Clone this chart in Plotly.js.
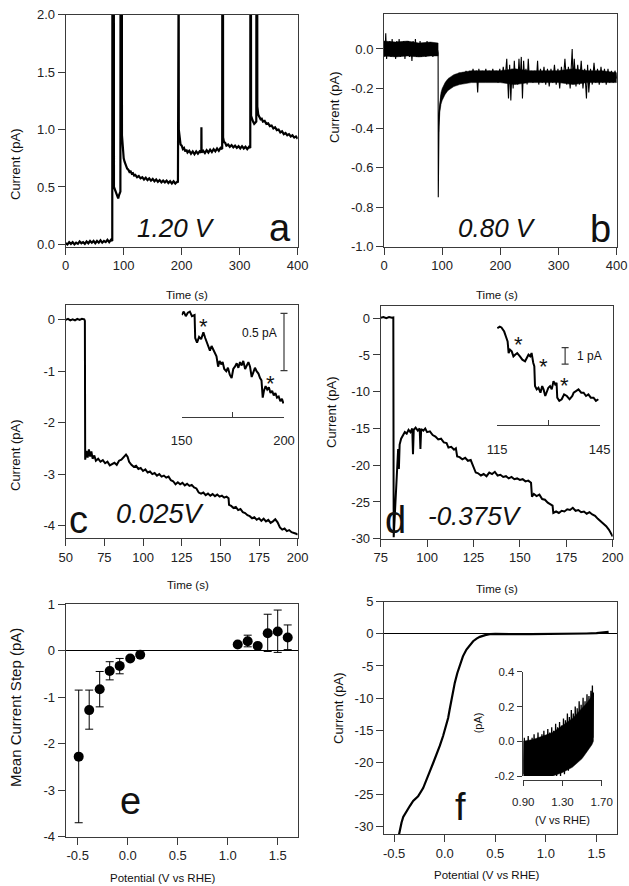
<!DOCTYPE html>
<html><head><meta charset="utf-8">
<script src="https://cdn.plot.ly/plotly-3.0.1.min.js"></script>
<style>html,body{margin:0;padding:0;background:#fff}#chart{width:629px;height:886px}</style>
</head><body><div id="chart"></div>
<script>
// ---------- DATA ----------
// panel a : 1.20 V, time (s) vs current (pA)
const panelA = [[0,0.01],[3,0.0],[6,0.02],[9,0.005],[12,0.02],[15,0.0],[18,0.015],[21,0.005],[24,0.025],[27,0.01],[30,0.02],[33,0.005],[36,0.025],[39,0.01],[42,0.03],[45,0.015],[48,0.03],[51,0.01],[54,0.03],[57,0.015],[60,0.035],[63,0.015],[66,0.03],[69,0.02],[72,0.04],[75,0.02],[78,0.04],[80.3,0.03],
[80.5,2.5],[83,2.5],
[83.2,0.5],[85,0.47],[87,0.45],[89,0.41],[90.5,0.40],[92,0.43],[94.3,0.46],
[94.5,2.5],[96.8,2.5],
[97,0.95],[98,0.84],[99,0.78],[100,0.75],[101.5,0.72],[103,0.69],[104.5,0.68],[106,0.66],[108,0.65],[110,0.63],[112,0.635],[114,0.615],[116,0.62],[118,0.6],[120,0.605],[123,0.585],[126,0.595],[129,0.575],[132,0.585],[135,0.565],[138,0.58],[141,0.56],[144,0.575],[147,0.555],[150,0.57],[153,0.55],[156,0.565],[159,0.545],[162,0.56],[165,0.54],[168,0.555],[171,0.54],[174,0.555],[177,0.535],[180,0.55],[183,0.53],[186,0.55],[189,0.53],[192,0.545],[193.5,0.54],
[193.7,2.5],[194.8,2.5],
[195,1.0],[196,0.93],[197,0.9],[198,0.87],[200,0.86],[202,0.83],[204,0.84],[206,0.81],[208,0.825],[210,0.8],[213,0.815],[216,0.79],[219,0.81],[222,0.785],[225,0.81],[228,0.79],[231,0.81],[233.8,0.8],[234,1.02],[234.3,0.8],[237,0.815],[240,0.795],[243,0.82],[246,0.8],[249,0.825],[252,0.805],[255,0.83],[258,0.81],[261,0.835],[264,0.815],[267,0.84],[269.8,0.83],
[270,2.5],[271.2,2.5],
[271.4,0.93],[273,0.89],[275,0.885],[277,0.86],[280,0.87],[283,0.85],[286,0.865],[289,0.845],[292,0.86],[295,0.84],[298,0.855],[301,0.835],[304,0.855],[307,0.835],[310,0.85],[313,0.83],[316,0.85],[318.2,0.84],
[318.4,2.5],[319.4,2.5],
[319.6,1.12],[321,1.09],[323,1.07],[325,1.05],[327,1.06],[328.6,1.07],
[328.8,2.5],[330.2,2.5],
[330.4,1.2],[332,1.13],[334,1.11],[336,1.09],[338,1.095],[340,1.07],[343,1.075],[346,1.05],[349,1.055],[352,1.03],[355,1.035],[358,1.01],[361,1.02],[364,0.995],[367,1.0],[370,0.975],[373,0.985],[376,0.96],[379,0.97],[382,0.95],[385,0.96],[388,0.94],[391,0.95],[394,0.93],[397,0.94],[400,0.92]];

// panel b : 0.80 V (spiky trace + dense noise band envelope)
const panelB = [[0,0.03],[1.5,-0.04],[3,0.08],[4.5,-0.05],[6,0.03],[8,-0.03],[10,0.04],[12,-0.04],[14,0.05],[16,-0.03],[18,0.03],[20,-0.05],[22,0.04],[24,-0.03],[26,0.05],[28,-0.04],[30,0.03],[32,-0.03],[34,0.04],[36,-0.05],[38,0.03],[40,-0.03],[42,0.04],[44,-0.04],[46,0.03],[48,-0.06],[50,0.04],[52,-0.03],[54,0.05],[56,-0.04],[58,0.03],[60,-0.03],[62,0.04],[64,-0.04],[66,0.03],[68,-0.03],[70,0.03],[72,-0.04],[74,0.04],[76,-0.03],[78,0.03],[80,-0.03],[82,0.03],[84,-0.04],[86,0.03],[88,-0.03],[90,0.03],[92,-0.02],
[93,-0.02],[93.3,-0.75],[93.8,-0.45],[94.5,-0.37],[95.5,-0.3],[97,-0.27],[98.5,-0.23],[100,-0.25],[102,-0.2],[104,-0.23],[106,-0.18],[108,-0.21],[110,-0.16],[112,-0.2],[114,-0.15],[116,-0.19],[118,-0.14],[120,-0.18],[123,-0.13],[126,-0.18],[129,-0.12],[132,-0.17],[135,-0.12],[138,-0.17],[141,-0.11],[144,-0.16],[147,-0.11],[150,-0.16],[153,-0.1],[156,-0.15],[159,-0.11],[161,-0.22],[163,-0.1],[166,-0.16],[169,-0.11],[172,-0.16],[175,-0.1],[178,-0.15],[181,-0.11],[184,-0.16],[187,-0.1],[190,-0.15],[193,-0.11],[196,-0.17],[199,-0.1],[202,-0.16],[205,-0.09],[208,-0.16],[211,-0.05],[214,-0.25],[216,-0.08],[218,-0.26],[220,-0.1],[222,-0.2],[224,-0.06],[226,-0.17],[228,-0.11],[230,-0.18],[232,-0.05],[234,-0.16],[236,-0.04],[238,-0.25],[240,-0.06],[242,-0.17],[244,-0.1],[246,-0.18],[248,-0.05],[250,-0.16],[253,-0.11],[256,-0.17],[259,-0.11],[262,-0.16],[264,-0.06],[266,-0.18],[269,-0.1],[272,-0.17],[275,-0.09],[278,-0.18],[281,-0.1],[284,-0.19],[287,-0.1],[290,-0.17],[293,-0.08],[296,-0.18],[299,-0.1],[302,-0.2],[305,-0.09],[308,-0.17],[311,-0.05],[314,-0.18],[317,-0.09],[320,-0.2],[322,-0.03],[323.5,0.0],[325,-0.17],[327,-0.05],[330,-0.19],[333,-0.08],[336,-0.18],[339,-0.06],[342,-0.2],[345,-0.1],[348,-0.25],[350,-0.08],[352,-0.22],[355,-0.1],[358,-0.18],[361,-0.07],[364,-0.17],[367,-0.1],[370,-0.18],[373,-0.09],[376,-0.17],[379,-0.1],[382,-0.18],[385,-0.1],[388,-0.17],[391,-0.11],[394,-0.17],[397,-0.11],[400,-0.15]];
const bBand1Time  = [0, 20, 40, 60, 80, 93];
const bBand1Upper = [0.04, 0.035, 0.04, 0.03, 0.035, 0.03];
const bBand1Lower = [-0.035, -0.04, -0.035, -0.04, -0.035, -0.035];
const bBand2Time  = [94, 96, 98, 100, 105, 110, 120, 130, 150, 175, 200, 225, 250, 275, 300, 325, 350, 375, 400];
const bBand2Upper = [-0.33, -0.26, -0.22, -0.2, -0.17, -0.15, -0.13, -0.12, -0.11, -0.11, -0.11, -0.1, -0.11, -0.11, -0.11, -0.1, -0.11, -0.11, -0.12];
const bBand2Lower = [-0.42, -0.32, -0.28, -0.26, -0.23, -0.21, -0.19, -0.18, -0.17, -0.17, -0.17, -0.18, -0.17, -0.17, -0.17, -0.18, -0.17, -0.17, -0.17];

// panel c : 0.025 V
const panelC = [[50,0.0],[51.5,0.02],[53,-0.01],[54.5,0.01],[56,-0.01],[57.5,0.02],[59,0.0],[60.5,0.02],[62,0.01],[62.4,-0.02],[62.6,-2.72],[63.4,-2.55],[64.2,-2.68],[65,-2.52],[65.8,-2.66],[66.6,-2.56],[67.4,-2.7],[68.5,-2.64],[69.5,-2.74],[71,-2.7],[72.5,-2.76],[74,-2.73],[75.5,-2.79],[77,-2.76],[78.5,-2.83],[80,-2.8],[81.5,-2.78],[83,-2.82],[84.5,-2.74],[86,-2.72],[87.5,-2.66],[89,-2.62],[90,-2.66],[91,-2.76],[92.5,-2.82],[94,-2.86],[95.5,-2.84],[97,-2.9],[98.5,-2.88],[100,-2.94],[101.5,-2.91],[103,-2.97],[104.5,-2.95],[106,-3.0],[107.5,-2.98],[109,-3.03],[110.5,-3.0],[112,-3.05],[113.5,-3.03],[115,-3.07],[116.5,-3.05],[118,-3.12],[119.5,-3.14],[121,-3.2],[122.5,-3.16],[124,-3.2],[125.5,-3.17],[127,-3.22],[128.5,-3.19],[130,-3.23],[131.5,-3.21],[133,-3.26],[134.5,-3.28],[136,-3.36],[137.5,-3.38],[139,-3.36],[140.5,-3.41],[142,-3.38],[143.5,-3.42],[145,-3.39],[146.5,-3.43],[148,-3.4],[149.5,-3.44],[151,-3.42],[152.5,-3.46],[154,-3.44],[155.3,-3.47],[155.6,-3.6],[157,-3.62],[158.5,-3.66],[160,-3.64],[161.5,-3.7],[163,-3.68],[164.5,-3.74],[166,-3.76],[167.5,-3.8],[169,-3.82],[170.5,-3.86],[172,-3.84],[173.5,-3.89],[175,-3.86],[176.5,-3.91],[178,-3.87],[179.5,-3.92],[181,-3.89],[182.5,-3.95],[184,-3.92],[185.5,-3.88],[187,-3.94],[188.5,-4.04],[190,-4.08],[191.5,-4.06],[193,-4.11],[194.5,-4.09],[196,-4.13],[197.5,-4.14],[199,-4.16],[200,-4.18]];
// panel c inset (time 150-200 s, relative current, pA)
const panelCInset = [[150,0.0],[151,0.03],[152,-0.01],[153,0.02],[154,0.03],[155,-0.01],[156.3,0.0],[156.6,-0.2],[157.5,-0.24],[158.5,-0.19],[159.5,-0.21],[160.6,-0.15],[161.5,-0.2],[162.2,-0.24],[163,-0.27],[163.8,-0.31],[164.6,-0.27],[165.4,-0.3],[166.2,-0.34],[167,-0.36],[167.8,-0.45],[168.5,-0.4],[169.3,-0.43],[170,-0.41],[170.8,-0.47],[171.8,-0.49],[172.6,-0.46],[173.5,-0.52],[174.4,-0.55],[175.2,-0.47],[176,-0.45],[176.9,-0.42],[177.7,-0.46],[178.5,-0.41],[179.3,-0.44],[180.1,-0.40],[181,-0.47],[181.8,-0.44],[182.6,-0.41],[183.4,-0.45],[184.2,-0.54],[185,-0.5],[185.8,-0.46],[186.6,-0.49],[187.5,-0.51],[188.3,-0.55],[189,-0.57],[189.6,-0.72],[190.2,-0.66],[191,-0.62],[191.8,-0.65],[192.6,-0.63],[193.4,-0.68],[194.2,-0.66],[195,-0.7],[195.8,-0.68],[196.6,-0.72],[197.4,-0.71],[198.2,-0.75],[199,-0.73],[199.7,-0.77]];
const cScaleBar = 0.5;      // pA
const cInsetTicks = [150,175,200];
const cInsetTickText = ['150','','200'];

// panel d : -0.375 V
const panelD = [[75,0.05],[76.5,0.15],[78,0.0],[79.5,0.15],[81,0.05],[81.8,0.1],[82,-29.8],[82.5,-27.5],[83,-24],[83.5,-21.5],[84,-19.5],[84.4,-17.8],[84.8,-20.5],[85.2,-17.2],[86,-16.4],[87,-16.0],[88,-15.5],[89,-15.7],[90,-15.2],[91,-15.5],[92,-15.0],[92.4,-18.5],[92.8,-15.2],[93.8,-14.9],[95,-15.3],[96,-15.0],[96.4,-17.8],[96.8,-15.1],[98,-15.3],[99,-15.0],[100,-15.5],[101.5,-15.4],[103,-15.9],[104.5,-16.1],[106,-16.5],[107.5,-16.4],[109,-16.9],[110.5,-17.0],[111.5,-17.6],[113,-17.5],[114.5,-17.9],[115.5,-17.7],[116.2,-18.8],[117.5,-18.9],[119,-19.2],[120.5,-19.0],[122,-19.4],[123.5,-19.3],[124.5,-19.9],[125.5,-20.6],[126.2,-21.0],[127.5,-21.1],[129,-21.4],[130.5,-21.2],[132,-21.5],[133.5,-21.0],[135,-21.2],[136.5,-20.9],[138,-21.4],[139.5,-21.3],[141,-21.6],[142.5,-21.5],[144,-21.8],[145.5,-21.6],[147,-21.9],[148.5,-21.8],[150,-22.0],[151.5,-21.9],[153,-22.2],[154.5,-22.1],[156,-22.4],[156.5,-24.3],[157.5,-23.9],[159,-24.2],[160.5,-24.0],[162,-24.6],[163.5,-24.7],[165,-25.1],[166.5,-25.4],[167.6,-25.5],[168,-26.5],[169.5,-26.3],[171,-26.5],[172.5,-26.2],[174,-26.3],[175.5,-26.0],[177,-26.1],[178.5,-25.8],[180,-26.2],[181.5,-26.1],[183,-26.4],[184.5,-26.3],[186,-26.6],[187.5,-26.4],[189,-26.7],[190.5,-26.9],[192,-27.3],[193.5,-27.6],[195,-28.0],[196.5,-28.3],[198,-28.8],[199,-29.2],[200,-29.7]];
// panel d inset (time 115-145 s, relative current, pA)
const panelDInset = [[115.1,0],[115.8,0.1],[116.3,0.05],[116.8,-0.1],[117.1,-0.2],[117.6,-0.5],[118.1,-0.8],[118.4,-1.5],[118.8,-1.3],[119.3,-1.4],[119.8,-1.7],[120.3,-1.6],[120.9,-1.5],[121.7,-1.7],[122.4,-1.9],[123.2,-2.0],[123.7,-1.8],[124.2,-1.6],[124.7,-1.7],[125.1,-1.5],[125.6,-2.1],[125.9,-2.3],[126.1,-3.5],[126.6,-3.7],[127.1,-3.6],[127.7,-3.9],[128.2,-3.5],[128.6,-3.7],[129.1,-4.1],[129.5,-3.9],[130,-3.6],[130.5,-3.5],[131,-3.7],[131.5,-3.2],[132,-3.4],[132.4,-3.3],[132.6,-4.2],[133.2,-4.4],[133.9,-4.3],[134.6,-4.0],[135.4,-4.1],[136.2,-4.3],[137,-4.1],[137.4,-3.9],[138.1,-3.8],[138.8,-3.7],[139.6,-3.9],[140.3,-3.9],[141,-4.1],[141.7,-4.0],[142.4,-4.2],[143.2,-4.2],[143.9,-4.4],[144.6,-4.3]];
const dScaleBar = 1;        // pA
const dInsetTicks = [115,130,145];
const dInsetTickText = ['115','','145'];

// panel e : mean current step vs potential
const ePotential = [-0.49,-0.385,-0.28,-0.18,-0.08,0.025,0.125,1.1,1.2,1.3,1.4,1.5,1.6];
const eMeanStep  = [-2.28,-1.28,-0.83,-0.44,-0.33,-0.17,-0.09,0.13,0.20,0.10,0.37,0.41,0.28];
const eErrPlus   = [1.43,0.43,0.38,0.20,0.16,0.02,0.02,0.02,0.13,0.02,0.41,0.46,0.27];
const eErrMinus  = [1.42,0.41,0.38,0.19,0.17,0.02,0.02,0.02,0.12,0.02,0.39,0.45,0.26];

// panel f : linear sweep, potential (V vs RHE) vs current (pA)
const fPotential = [-0.455,-0.44,-0.427,-0.41,-0.378,-0.345,-0.312,-0.263,-0.213,-0.18,-0.147,-0.114,-0.081,-0.048,-0.016,0.01,0.034,0.05,0.067,0.085,0.1,0.125,0.149,0.18,0.215,0.25,0.281,0.315,0.347,0.4,0.446,0.5,0.55,0.7,0.85,1.0,1.15,1.3,1.4,1.5,1.56,1.62];
const fCurrent   = [-31.5,-30.2,-29.4,-28.5,-27.6,-26.8,-26.0,-25.3,-24.0,-22.8,-21.4,-20.1,-18.8,-17.4,-15.9,-14.5,-13.1,-11.7,-10.2,-8.9,-7.6,-6.1,-4.8,-3.5,-2.44,-1.7,-1.15,-0.75,-0.47,-0.2,-0.06,-0.02,-0.05,-0.05,-0.06,-0.05,-0.03,0.0,0.05,0.1,0.15,0.3];
// panel f inset (0.90-1.70 V zoom): spiky trace + noise band envelope
const fInset = [[0.90,-0.19],[0.91,0.02],[0.92,-0.2],[0.93,-0.01],[0.94,-0.19],[0.95,0.03],[0.96,-0.2],[0.97,0.0],[0.98,-0.19],[0.99,0.02],[1.00,-0.2],[1.01,0.04],[1.02,-0.19],[1.03,0.01],[1.04,-0.2],[1.05,0.05],[1.06,-0.19],[1.07,0.02],[1.08,-0.2],[1.09,0.04],[1.10,-0.19],[1.11,0.06],[1.12,-0.2],[1.13,0.03],[1.14,-0.19],[1.15,0.07],[1.16,-0.2],[1.17,0.05],[1.18,-0.19],[1.19,0.08],[1.20,-0.2],[1.21,0.06],[1.22,-0.19],[1.23,0.1],[1.24,-0.2],[1.25,0.08],[1.26,-0.18],[1.27,0.11],[1.28,-0.2],[1.29,0.09],[1.30,-0.17],[1.31,0.13],[1.32,-0.19],[1.33,0.12],[1.34,-0.16],[1.35,0.16],[1.36,-0.17],[1.37,0.14],[1.38,-0.15],[1.39,0.18],[1.40,-0.14],[1.41,0.16],[1.42,-0.13],[1.43,0.2],[1.44,-0.12],[1.45,0.19],[1.46,-0.11],[1.47,0.23],[1.48,-0.1],[1.49,0.21],[1.50,-0.08],[1.51,0.25],[1.52,-0.07],[1.53,0.23],[1.54,-0.05],[1.55,0.27],[1.56,-0.04],[1.57,0.26],[1.58,-0.02],[1.59,0.29],[1.60,0.0],[1.605,0.32],[1.61,0.02],[1.615,0.28]];
const fBandV     = [0.9, 1.0, 1.1, 1.2, 1.3, 1.4, 1.5, 1.55, 1.6, 1.615];
const fBandUpper = [0.0, 0.01, 0.03, 0.05, 0.09, 0.13, 0.19, 0.22, 0.26, 0.25];
const fBandLower = [-0.2, -0.2, -0.2, -0.2, -0.18, -0.15, -0.1, -0.06, -0.02, 0.0];
const fInsetXTicks = [0.9,1.3,1.7];
const fInsetXText = ['0.90','1.30','1.70'];
const fInsetYTicks = [-0.2,0,0.2,0.4];
const fInsetYText = ['-0.2','0.0','0.2','0.4'];

// ---------- LAYOUT ----------
const W = 629, H = 886;
const px = v => v / W;
const py = v => 1 - v / H;
const FONT = 'Liberation Sans, Arial, sans-serif';
const AX = '#3a3a3a';
const TXT = '#222';
const xs = arr => arr.map(p => p[0]);
const ys = arr => arr.map(p => p[1]);
const band = (t, up, lo) => ({x: t.concat(t.slice().reverse()), y: up.concat(lo.slice().reverse())});

function mainAxis(dom, range, tv, tt, anchor) {
  return {domain: dom, range: range, anchor: anchor, tickvals: tv, ticktext: tt,
    showline: true, mirror: true, linecolor: AX, linewidth: 1,
    ticks: 'outside', ticklen: 7, tickcolor: AX, tickwidth: 1,
    showgrid: false, zeroline: false, fixedrange: true,
    tickfont: {family: FONT, size: 13, color: TXT}};
}
const tk = (vals, f) => vals.map(f);
const b1 = band(bBand1Time, bBand1Upper, bBand1Lower);
const b2 = band(bBand2Time, bBand2Upper, bBand2Lower);
const fb = band(fBandV, fBandUpper, fBandLower);

const traces = [
  {x: xs(panelA), y: ys(panelA), xaxis: 'x', yaxis: 'y', mode: 'lines', line: {color: '#000', width: 2.2}},
  {x: b1.x, y: b1.y, xaxis: 'x2', yaxis: 'y2', mode: 'lines', fill: 'toself', fillcolor: '#000', line: {color: '#000', width: 0.5}},
  {x: b2.x, y: b2.y, xaxis: 'x2', yaxis: 'y2', mode: 'lines', fill: 'toself', fillcolor: '#000', line: {color: '#000', width: 0.5}},
  {x: xs(panelB), y: ys(panelB), xaxis: 'x2', yaxis: 'y2', mode: 'lines', line: {color: '#000', width: 1.1}},
  {x: xs(panelC), y: ys(panelC), xaxis: 'x3', yaxis: 'y3', mode: 'lines', line: {color: '#000', width: 2}},
  {x: xs(panelCInset), y: ys(panelCInset), xaxis: 'x7', yaxis: 'y7', mode: 'lines', line: {color: '#000', width: 2}},
  {x: [200], y: [-cScaleBar/2 + 0.015], xaxis: 'x10', yaxis: 'y10', mode: 'markers', marker: {size: 1, color: 'rgba(0,0,0,0)'},
   error_y: {type: 'constant', value: cScaleBar/2, visible: true, color: AX, thickness: 1.2, width: 3.5}},
  {x: xs(panelD), y: ys(panelD), xaxis: 'x4', yaxis: 'y4', mode: 'lines', line: {color: '#000', width: 2}},
  {x: xs(panelDInset), y: ys(panelDInset), xaxis: 'x8', yaxis: 'y8', mode: 'lines', line: {color: '#000', width: 2}},
  {x: [134.9], y: [-1.67], xaxis: 'x8', yaxis: 'y8', mode: 'markers', marker: {size: 1, color: 'rgba(0,0,0,0)'},
   error_y: {type: 'constant', value: dScaleBar/2, visible: true, color: AX, thickness: 1.2, width: 3.5}},
  {x: ePotential, y: eMeanStep, xaxis: 'x5', yaxis: 'y5', mode: 'markers', marker: {color: '#000', size: 10},
   error_y: {type: 'data', array: eErrPlus, arrayminus: eErrMinus, visible: true, color: '#000', thickness: 1, width: 4}},
  {x: fPotential, y: fCurrent, xaxis: 'x6', yaxis: 'y6', mode: 'lines', line: {color: '#000', width: 2.2}},
  {x: fb.x, y: fb.y, xaxis: 'x9', yaxis: 'y9', mode: 'lines', fill: 'toself', fillcolor: '#000', line: {color: '#000', width: 0.5}},
  {x: xs(fInset), y: ys(fInset), xaxis: 'x9', yaxis: 'y9', mode: 'lines', line: {color: '#000', width: 1.3}}
];

const oneDec = v => (v < 0 ? '-' : '') + Math.abs(v).toFixed(1);
const intLab = v => (v < 0 ? '-' : '') + Math.abs(v).toFixed(0);

const aY = [0, 0.5, 1, 1.5, 2], bY = [-1, -0.8, -0.6, -0.4, -0.2, 0];
const tA = [0, 100, 200, 300, 400], tC = [50, 75, 100, 125, 150, 175, 200], tD = [75, 100, 125, 150, 175, 200];
const cY = [-4, -3, -2, -1, 0], dY = [-30, -25, -20, -15, -10, -5, 0];
const eX = [-0.5, 0, 0.5, 1, 1.5], eY = [-4, -3, -2, -1, 0, 1], fY = [-30, -25, -20, -15, -10, -5, 0, 5];

const layout = {
  width: W, height: H, margin: {l: 0, r: 0, t: 0, b: 0},
  paper_bgcolor: '#fff', plot_bgcolor: 'rgba(0,0,0,0)', showlegend: false,
  font: {family: FONT, color: TXT},
  xaxis:  mainAxis([px(65.7), px(297.7)], [0, 400], tA, tk(tA, intLab), 'y'),
  yaxis:  mainAxis([py(246.7), py(14.7)], [-0.02, 2.0], aY, tk(aY, oneDec), 'x'),
  xaxis2: mainAxis([px(384), px(616.7)], [0, 400], tA, tk(tA, intLab), 'y2'),
  yaxis2: mainAxis([py(246.7), py(14)], [-1.0, 0.177], bY, tk(bY, oneDec), 'x2'),
  xaxis3: mainAxis([px(65.7), px(297.7)], [50, 200], tC, tk(tC, intLab), 'y3'),
  yaxis3: mainAxis([py(538.3), py(305)], [-4.25, 0.29], cY, tk(cY, intLab), 'x3'),
  xaxis4: mainAxis([px(380.7), px(612.7)], [75, 200], tD, tk(tD, intLab), 'y4'),
  yaxis4: mainAxis([py(538.7), py(305.7)], [-30, 1.7], dY, tk(dY, intLab), 'x4'),
  xaxis5: mainAxis([px(65.7), px(297.7)], [-0.62, 1.70], eX, tk(eX, oneDec), 'y5'),
  yaxis5: Object.assign(mainAxis([py(836.7), py(604)], [-4, 1], eY, tk(eY, intLab), 'x5'), {zeroline: true, zerolinecolor: '#000', zerolinewidth: 1}),
  xaxis6: mainAxis([px(384), px(616.7)], [-0.6, 1.7], eX, tk(eX, oneDec), 'y6'),
  yaxis6: Object.assign(mainAxis([py(834.3), py(601.7)], [-31.2, 5], fY, tk(fY, intLab), 'x6'), {zeroline: true, zerolinecolor: '#000', zerolinewidth: 1}),
  // inset c
  xaxis7: {domain: [px(181.7), px(284)], range: [150, 200], anchor: 'free', position: py(416.7),
    showline: true, linecolor: AX, linewidth: 1, ticks: 'inside', ticklen: 5, tickcolor: AX,
    tickvals: cInsetTicks, ticktext: cInsetTickText, showgrid: false, zeroline: false, fixedrange: true,
    ticklabelstandoff: 12, tickfont: {family: FONT, size: 13, color: TXT}},
  yaxis7: {domain: [py(406.8), py(309.3)], range: [-0.8, 0.05], anchor: 'x7', visible: false, fixedrange: true},
  xaxis10: {domain: [px(181.7), px(294)], range: [150, 204.89], anchor: 'y10', visible: false, fixedrange: true},
  yaxis10: {domain: [py(406.8), py(309.3)], range: [-0.8, 0.05], anchor: 'x10', visible: false, fixedrange: true},
  // inset d
  xaxis8: {domain: [px(497), px(599.7)], range: [115, 145], anchor: 'free', position: py(425),
    showline: true, linecolor: AX, linewidth: 1, ticks: 'inside', ticklen: 5, tickcolor: AX,
    tickvals: dInsetTicks, ticktext: dInsetTickText, showgrid: false, zeroline: false, fixedrange: true,
    ticklabelstandoff: 12, tickfont: {family: FONT, size: 13, color: TXT}},
  yaxis8: {domain: [py(402.6), py(320)], range: [-4.5, 0.5], anchor: 'x8', visible: false, fixedrange: true},
  // inset f
  xaxis9: {domain: [px(523.3), px(601.7)], range: [0.9, 1.7], anchor: 'free', position: py(780),
    showline: true, linecolor: AX, linewidth: 1, ticks: 'outside', ticklen: 5, tickcolor: AX,
    tickvals: fInsetXTicks, ticktext: fInsetXText, showgrid: false, zeroline: false, fixedrange: true,
    ticklabelstandoff: 6, tickfont: {family: FONT, size: 11.5, color: TXT}},
  yaxis9: {domain: [py(776), py(671.7)], range: [-0.2, 0.4], anchor: 'free', position: px(521.7),
    showline: true, linecolor: AX, linewidth: 1, ticks: 'outside', ticklen: 5, tickcolor: AX,
    tickvals: fInsetYTicks, ticktext: fInsetYText, showgrid: false, zeroline: false, fixedrange: true,
    tickfont: {family: FONT, size: 11.5, color: TXT}},
  annotations: []
};

function ann(text, x, y, size, extra) {
  return Object.assign({text: text, x: px(x), y: py(y), xref: 'paper', yref: 'paper',
    showarrow: false, xanchor: 'center', yanchor: 'middle',
    font: {family: FONT, size: size, color: '#111'}}, extra || {});
}
const A = layout.annotations;
// axis titles
A.push(ann('Time (s)', 186.7, 295, 11.5));
A.push(ann('Time (s)', 496.7, 295, 11.5));
A.push(ann('Time (s)', 187.5, 585, 11.5));
A.push(ann('Time (s)', 496.7, 589, 11.5));
A.push(ann('Potential (V vs RHE)', 163, 878, 11.5));
A.push(ann('Potential (V vs RHE)', 486.7, 875, 11.5));
A.push(ann('Current (pA)', 15, 164, 13, {textangle: -90}));
A.push(ann('Current (pA)', 335, 107, 13, {textangle: -90}));
A.push(ann('Current (pA)', 15, 455, 13, {textangle: -90}));
A.push(ann('Current (pA)', 332, 412, 13, {textangle: -90}));
A.push(ann('Mean Current Step (pA)', 15, 708, 15, {textangle: -90}));
A.push(ann('Current (pA)', 338, 708, 13, {textangle: -90}));
// potentials
A.push(ann('<i>1.20 V</i>', 175.8, 228, 26));
A.push(ann('<i>0.80 V</i>', 496.7, 228, 26));
A.push(ann('<i>0.025V</i>', 160, 514, 27));
A.push(ann('<i>-0.375V</i>', 475, 516, 26));
// panel letters
A.push(ann('a', 280, 228, 38));
A.push(ann('b', 600, 229, 38));
A.push(ann('c', 78.3, 520, 38));
A.push(ann('d', 395.7, 520, 38));
A.push(ann('e', 130, 801, 38));
A.push(ann('f', 460.7, 807, 38));
// inset decorations
A.push(ann('*', 203.3, 326, 22));
A.push(ann('*', 270, 383, 22));
A.push(ann('*', 518, 344, 22));
A.push(ann('*', 543.7, 367, 22));
A.push(ann('*', 564, 386, 22));
A.push(ann('0.5 pA', 259, 333.3, 12));
A.push(ann('1 pA', 574.5, 356, 12, {xanchor: 'left'}));
A.push(ann('(pA)', 478, 723.3, 11, {textangle: -90}));
A.push(ann('(V vs RHE)', 562.5, 820, 11));

Plotly.newPlot('chart', traces, layout, {staticPlot: true, displayModeBar: false});
</script></body></html>
